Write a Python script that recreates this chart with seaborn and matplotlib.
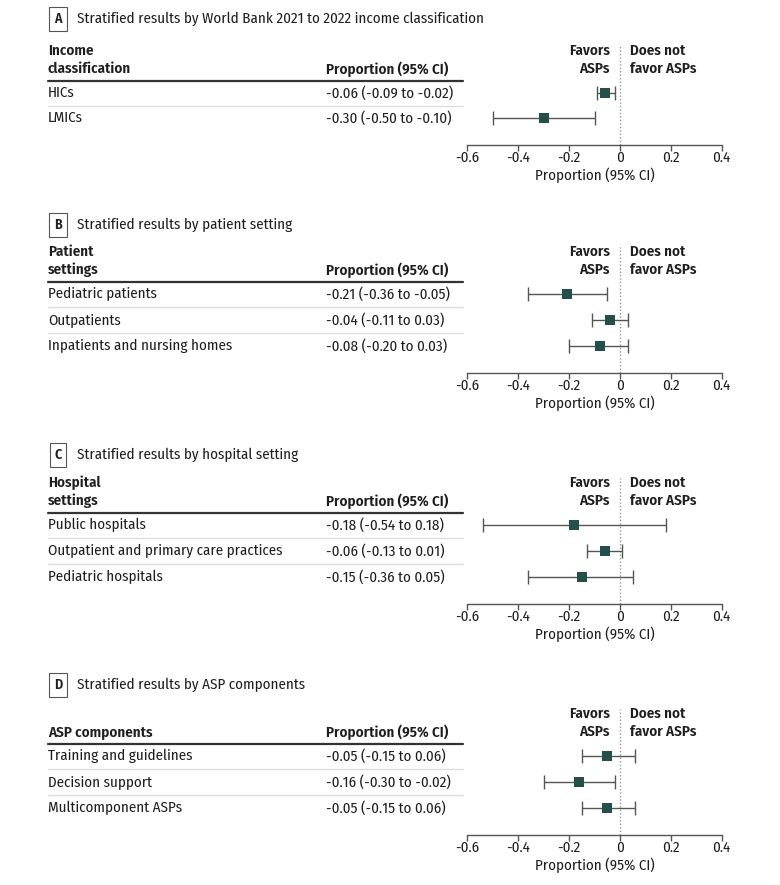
import matplotlib
matplotlib.use("Agg")
import matplotlib.pyplot as plt
import matplotlib.transforms as mtransforms
import seaborn as sns
import numpy as np

# panel A: income classification
a_labels = ["HICs", "LMICs"]
a_est = [-0.06, -0.30]
a_lo = [-0.09, -0.50]
a_hi = [-0.02, -0.10]
a_text = ["-0.06 (-0.09 to -0.02)", "-0.30 (-0.50 to -0.10)"]

# panel B: patient setting
b_labels = ["Pediatric patients", "Outpatients", "Inpatients and nursing homes"]
b_est = [-0.21, -0.04, -0.08]
b_lo = [-0.36, -0.11, -0.20]
b_hi = [-0.05, 0.03, 0.03]
b_text = ["-0.21 (-0.36 to -0.05)", "-0.04 (-0.11 to 0.03)", "-0.08 (-0.20 to 0.03)"]

# panel C: hospital setting
c_labels = ["Public hospitals", "Outpatient and primary care practices", "Pediatric hospitals"]
c_est = [-0.18, -0.06, -0.15]
c_lo = [-0.54, -0.13, -0.36]
c_hi = [0.18, 0.01, 0.05]
c_text = ["-0.18 (-0.54 to 0.18)", "-0.06 (-0.13 to 0.01)", "-0.15 (-0.36 to 0.05)"]

# panel D: ASP components
d_labels = ["Training and guidelines", "Decision support", "Multicomponent ASPs"]
d_est = [-0.05, -0.16, -0.05]
d_lo = [-0.15, -0.30, -0.15]
d_hi = [0.06, -0.02, 0.06]
d_text = ["-0.05 (-0.15 to 0.06)", "-0.16 (-0.30 to -0.02)", "-0.05 (-0.15 to 0.06)"]

xticks = [-0.6, -0.4, -0.2, 0, 0.2, 0.4]
xtick_labels = ["-0.6", "-0.4", "-0.2", "0", "0.2", "0.4"]

sns.set_theme(style="white")
plt.rcParams["font.family"] = ["Fira Sans Condensed", "Roboto Condensed", "DejaVu Sans"]
plt.rcParams["axes.unicode_minus"] = False

W, H = 780, 885
fig = plt.figure(figsize=(7.8, 8.85), dpi=100)
fig.patch.set_facecolor("white")


def fx(px):
    return px / W


def fy(py):
    return 1 - py / H


FS = 10.8
TXT = "#1e1e1e"
SQ = "#23504b"
LINE = "#555555"
HW = "semibold"

panels = [
    ("A", "Stratified results by World Bank 2021 to 2022 income classification",
     ["Income", "classification"], a_labels, a_est, a_lo, a_hi, a_text, 19, 93, 25),
    ("B", "Stratified results by patient setting",
     ["Patient", "settings"], b_labels, b_est, b_lo, b_hi, b_text, 225, 294, 26),
    ("C", "Stratified results by hospital setting",
     ["Hospital", "settings"], c_labels, c_est, c_lo, c_hi, c_text, 455, 525, 26),
    ("D", "Stratified results by ASP components",
     ["ASP components"], d_labels, d_est, d_lo, d_hi, d_text, 685, 756, 26),
]

for letter, title, header, labels, est, lo, hi, vals, title_y, row0, sp in panels:
    n = len(labels)
    top_px = row0 - 47
    bot_px = row0 + (n - 1) * sp + 26.5
    ax = fig.add_axes([fx(467.3), fy(bot_px), fx(721.7) - fx(467.3), (bot_px - top_px) / H])
    ax.set_xlim(-0.6, 0.4)
    ax.set_ylim(n - 1 + 26.5 / sp, -47 / sp)
    ax.set_facecolor("none")

    est = np.array(est)
    y = np.arange(n)
    ax.axvline(0, color="#999999", lw=1, ls=(0, (1, 1.5)), zorder=1)
    ax.errorbar(est, y, xerr=[est - np.array(lo), np.array(hi) - est], fmt="none",
                ecolor=LINE, elinewidth=1, capsize=5, capthick=1, zorder=2)
    sns.scatterplot(x=est, y=y, marker="s", s=50, color=SQ, edgecolor=SQ,
                    linewidth=0, ax=ax, zorder=3, legend=False)

    for s in ["left", "top", "right"]:
        ax.spines[s].set_visible(False)
    ax.spines["bottom"].set_color(LINE)
    ax.spines["bottom"].set_linewidth(1)
    ax.set_xticks(xticks)
    ax.set_xticklabels(xtick_labels)
    ax.set_yticks([])
    ax.tick_params(axis="x", bottom=True, direction="out", length=4, width=1,
                   color=LINE, labelsize=FS, pad=0.5, labelcolor=TXT)
    ax.set_xlabel("Proportion (95% CI)", fontsize=FS, labelpad=1.5, color=TXT)
    ax.set_ylabel("")

    # favors annotations
    yh1 = -42 / sp
    yh2 = -24 / sp
    ax.text(-0.04, yh1, "Favors", ha="right", va="center", fontsize=FS, weight=HW, color=TXT)
    ax.text(-0.04, yh2, "ASPs", ha="right", va="center", fontsize=FS, weight=HW, color=TXT)
    ax.text(0.04, yh1, "Does not", ha="left", va="center", fontsize=FS, weight=HW, color=TXT)
    ax.text(0.04, yh2, "favor ASPs", ha="left", va="center", fontsize=FS, weight=HW, color=TXT)

    # left table
    trans = mtransforms.blended_transform_factory(fig.transFigure, ax.transData)
    if len(header) == 2:
        ax.text(fx(48), yh1, header[0], transform=trans, ha="left", va="center",
                fontsize=FS, weight=HW, color=TXT)
        ax.text(fx(48), yh2, header[1], transform=trans, ha="left", va="center",
                fontsize=FS, weight=HW, color=TXT)
    else:
        ax.text(fx(48), yh2, header[0], transform=trans, ha="left", va="center",
                fontsize=FS, weight=HW, color=TXT)
    ax.text(fx(326), yh2, "Proportion (95% CI)", transform=trans, ha="left", va="center",
            fontsize=FS, weight=HW, color=TXT)
    ax.plot([fx(48), fx(463)], [-12 / sp, -12 / sp], transform=trans, clip_on=False,
            color="#333333", lw=1.6)
    for i in range(n):
        ax.text(fx(48), i, labels[i], transform=trans, ha="left", va="center",
                fontsize=FS, color=TXT)
        ax.text(fx(326), i, vals[i], transform=trans, ha="left", va="center",
                fontsize=FS, color=TXT)
        if i < n - 1:
            ax.plot([fx(48), fx(463)], [i + 0.5, i + 0.5], transform=trans, clip_on=False,
                    color="#dddddd", lw=1)

    # panel title with boxed letter
    fig.text(fx(58), fy(title_y), letter, ha="center", va="center", fontsize=FS - 0.8,
             weight="semibold", color=TXT,
             bbox=dict(boxstyle="square,pad=0.35", fc="white", ec="#555555", lw=0.8))
    fig.text(fx(77), fy(title_y), title, ha="left", va="center", fontsize=FS,
             color=TXT)

fig.savefig("out.png", dpi=100, facecolor="white")
